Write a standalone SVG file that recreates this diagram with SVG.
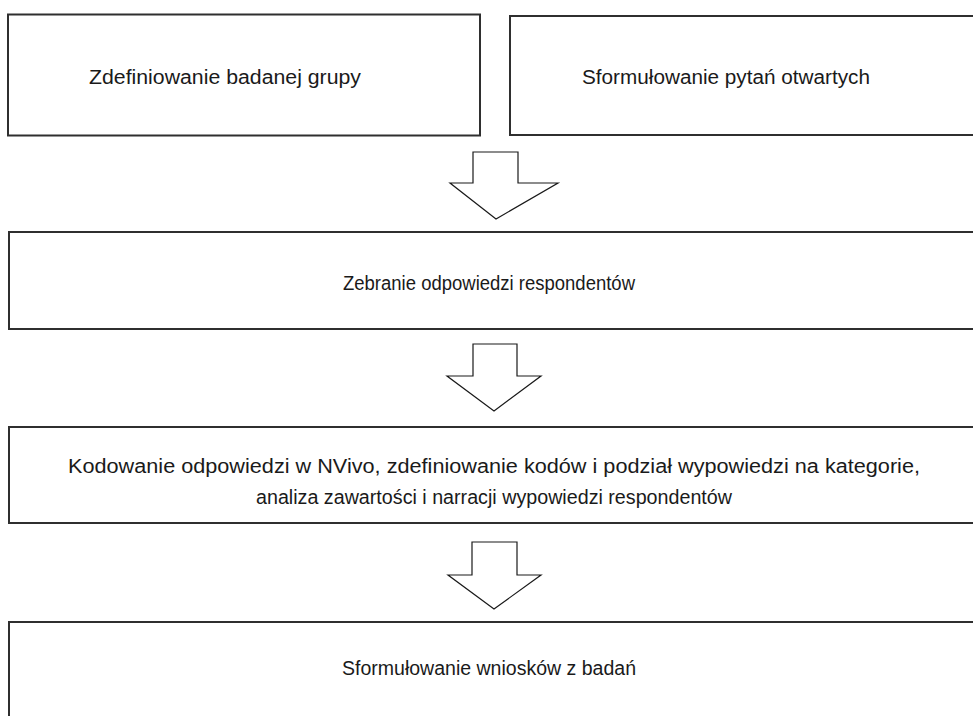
<svg xmlns="http://www.w3.org/2000/svg" width="973" height="716" viewBox="0 0 973 716">
  <style>
    .box { fill: #ffffff; stroke: #2f2f2f; stroke-width: 2; }
    .label { font-family: "Liberation Sans", "DejaVu Sans", sans-serif; font-size: 19.5px; fill: #1a1a1a; text-anchor: middle; }
    .arrow { fill: #ffffff; stroke: #1a1a1a; stroke-width: 1.2; stroke-linejoin: miter; }
  </style>
  <rect x="0" y="0" width="973" height="716" fill="#ffffff"/>

  <g id="define-group">
    <rect class="box" x="8" y="14.5" width="472" height="121"/>
    <text class="label" x="225" y="84" textLength="272" lengthAdjust="spacingAndGlyphs">Zdefiniowanie badanej grupy</text>
  </g>

  <g id="open-questions">
    <rect class="box" x="510" y="16" width="480" height="119"/>
    <text class="label" x="726" y="84" textLength="288" lengthAdjust="spacingAndGlyphs">Sformułowanie pytań otwartych</text>
  </g>

  <g id="collect-answers">
    <rect class="box" x="9" y="232" width="980" height="97"/>
    <text class="label" x="489" y="290" textLength="292" lengthAdjust="spacingAndGlyphs">Zebranie odpowiedzi respondentów</text>
  </g>

  <g id="coding">
    <rect class="box" x="9" y="427" width="980" height="96"/>
    <text class="label" x="494" y="473" textLength="852" lengthAdjust="spacingAndGlyphs">Kodowanie odpowiedzi w NVivo, zdefiniowanie kodów i podział wypowiedzi na kategorie,</text>
    <text class="label" x="494" y="504" textLength="476" lengthAdjust="spacingAndGlyphs">analiza zawartości i narracji wypowiedzi respondentów</text>
  </g>

  <g id="conclusions">
    <rect class="box" x="9" y="622" width="980" height="110"/>
    <text class="label" x="489" y="675" textLength="294" lengthAdjust="spacingAndGlyphs">Sformułowanie wniosków z badań</text>
  </g>

  <g id="connectors">
    <polygon class="arrow" points="473,152 518,152 518,183 558,183 496,219 450,183 473,183"/>
    <polygon class="arrow" points="473,344 517,344 517,376 541,376 494,411 447,376 473,376"/>
    <polygon class="arrow" points="472,542 517,542 517,575 541,575 494,609 448,575 472,575"/>
  </g>
</svg>
